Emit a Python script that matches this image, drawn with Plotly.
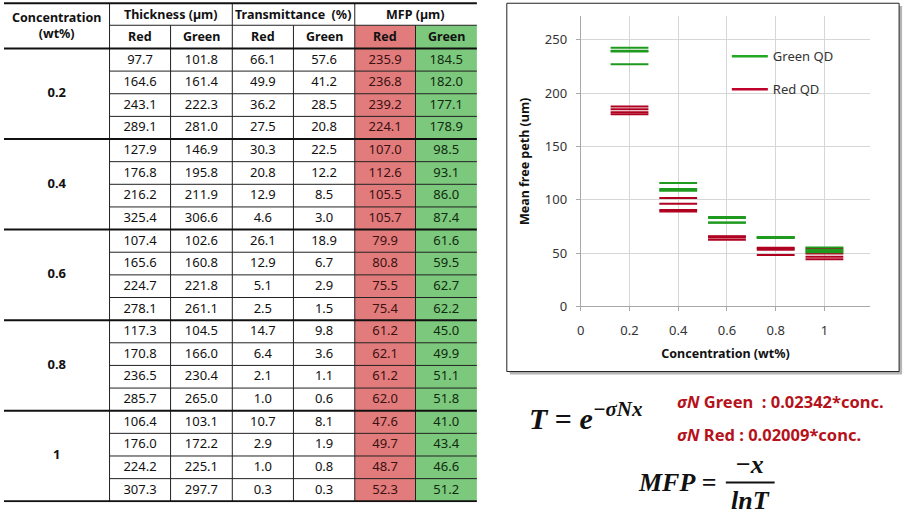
import plotly.graph_objects as go

W, H = 921, 526

# ---------------- data ----------------
concentrations = ["0.2", "0.4", "0.6", "0.8", "1"]
conc_values = [0.2, 0.4, 0.6, 0.8, 1.0]

thickness_red = [97.7, 164.6, 243.1, 289.1, 127.9, 176.8, 216.2, 325.4, 107.4, 165.6, 224.7, 278.1,
                 117.3, 170.8, 236.5, 285.7, 106.4, 176.0, 224.2, 307.3]
thickness_green = [101.8, 161.4, 222.3, 281.0, 146.9, 195.8, 211.9, 306.6, 102.6, 160.8, 221.8, 261.1,
                   104.5, 166.0, 230.4, 265.0, 103.1, 172.2, 225.1, 297.7]
trans_red = [66.1, 49.9, 36.2, 27.5, 30.3, 20.8, 12.9, 4.6, 26.1, 12.9, 5.1, 2.5,
             14.7, 6.4, 2.1, 1.0, 10.7, 2.9, 1.0, 0.3]
trans_green = [57.6, 41.2, 28.5, 20.8, 22.5, 12.2, 8.5, 3.0, 18.9, 6.7, 2.9, 1.5,
               9.8, 3.6, 1.1, 0.6, 8.1, 1.9, 0.8, 0.3]
mfp_red = [235.9, 236.8, 239.2, 224.1, 107.0, 112.6, 105.5, 105.7, 79.9, 80.8, 75.5, 75.4,
           61.2, 62.1, 61.2, 62.0, 47.6, 49.7, 48.7, 52.3]
mfp_green = [184.5, 182.0, 177.1, 178.9, 98.5, 93.1, 86.0, 87.4, 61.6, 59.5, 62.7, 62.2,
             45.0, 49.9, 51.1, 51.8, 41.0, 43.4, 46.6, 51.2]

# values (per concentration, 4 samples each)
chart_green = [[239.0, 239.8, 242.5, 227.2], [110.0, 115.8, 108.6, 108.8], [83.0, 83.9, 78.6, 78.5],
               [64.2, 65.1, 64.2, 65.0], [50.7, 52.8, 51.8, 55.3]]
chart_red = [[187.5, 185.0, 180.2, 182.0], [101.6, 96.2, 89.1, 90.5], [64.7, 62.6, 65.8, 65.3],
             [48.1, 53.0, 54.2, 54.9], [44.1, 46.5, 49.7, 54.3]]

x_ticks = [0, 0.2, 0.4, 0.6, 0.8, 1.0]
x_ticktext = ["0", "0.2", "0.4", "0.6", "0.8", "1"]

GREEN = "#1f9a1f"
RED = "#b00020"


def px(x):
    return x / W


def py(y):
    return 1 - y / H


fig = go.Figure()

# ---------------- chart ----------------
for name, vals, col in [("Red QD", chart_red, RED), ("Green QD", chart_green, GREEN)]:
    xs, ys = [], []
    for c, group in zip(conc_values, vals):
        for v in group:
            xs.append(c)
            ys.append(v)
    fig.add_trace(go.Scatter(
        x=xs, y=ys, mode="markers", showlegend=False, hoverinfo="skip",
        marker=dict(symbol="line-ew", size=27, line=dict(width=2, color=col)),
        xaxis="x", yaxis="y"))

for i, (name, col) in enumerate([("Green QD", "#22a822"), ("Red QD", "#c0002a")]):
    fig.add_trace(go.Scatter(
        x=[None], y=[None], mode="lines", name=name, legendgroup=name,
        line=dict(color=col, width=2.5), xaxis="x", yaxis="y"))

# ---------------- table ----------------
col_edges = [0, 106, 167.3, 229.3, 290.7, 352.3, 413.3, 475]
top_y, mid_y, head_y = 3.3, 25.7, 49.3
row_h = (510.0 - head_y) / 20
row_edges = [head_y + i * row_h for i in range(21)]
centers = [(col_edges[i] + col_edges[i + 1]) / 2 for i in range(7)]

shapes = []
# coloured MFP cells
shapes.append(dict(type="rect", xref="x2", yref="y2", x0=col_edges[5], x1=col_edges[6], y0=mid_y, y1=row_edges[-1],
                   fillcolor="#e27c7c", line=dict(width=0), layer="below"))
shapes.append(dict(type="rect", xref="x2", yref="y2", x0=col_edges[6], x1=col_edges[7], y0=mid_y, y1=row_edges[-1],
                   fillcolor="#7cc87c", line=dict(width=0), layer="below"))


def hline(y, x0, x1, w=1, color="#222"):
    shapes.append(dict(type="line", xref="x2", yref="y2", x0=x0, x1=x1, y0=y, y1=y,
                       line=dict(color=color, width=w), layer="below"))


def vline(x, y0, y1, w=1, color="#222"):
    shapes.append(dict(type="line", xref="x2", yref="y2", x0=x, x1=x, y0=y0, y1=y1,
                       line=dict(color=color, width=w), layer="below"))


for i, y in enumerate(row_edges[1:-1], start=1):
    if i % 4 != 0:
        hline(y, col_edges[1], col_edges[7])
hline(mid_y, col_edges[1], col_edges[7])
for x in [col_edges[1], col_edges[3], col_edges[5]]:
    vline(x, top_y, row_edges[-1])
for x in [col_edges[2], col_edges[4], col_edges[6]]:
    vline(x, mid_y, row_edges[-1])
hline(top_y, 0, col_edges[7], w=2, color="#111")
hline(head_y, 0, col_edges[7], w=2, color="#111")
for i in range(4, 21, 4):
    hline(row_edges[i], 0, col_edges[7], w=2, color="#111")

# table numbers
columns = [thickness_red, thickness_green, trans_red, trans_green, mfp_red, mfp_green]
col_colors = ["#111", "#111", "#111", "#111", "#3a1010", "#0f2a0f"]
tx, ty, tt, tc = [], [], [], []
for ci, (vals, colr) in enumerate(zip(columns, col_colors)):
    for ri, v in enumerate(vals):
        tx.append(centers[ci + 1])
        ty.append((row_edges[ri] + row_edges[ri + 1]) / 2 + 0.5)
        tt.append(f"{v:.1f}")
        tc.append(colr)
fig.add_trace(go.Scatter(
    x=tx, y=ty, text=tt, mode="text", showlegend=False, hoverinfo="skip",
    textfont=dict(family="Noto Sans", size=13, color=tc), xaxis="x2", yaxis="y2"))

# concentration labels
fig.add_trace(go.Scatter(
    x=[centers[0]] * 5, y=[row_edges[4 * g + 2] for g in range(5)],
    text=[f"<b>{c}</b>" for c in concentrations], mode="text", showlegend=False, hoverinfo="skip",
    textfont=dict(family="Noto Sans", size=13, color="#111"), xaxis="x2", yaxis="y2"))

annotations = []


def head(text, x, y, size=12.5):
    annotations.append(dict(text=f"<b>{text}</b>", x=x, y=y, xref="x2", yref="y2", showarrow=False,
                            xanchor="center", yanchor="middle",
                            font=dict(family="Noto Sans", size=size, color="#111")))


head("Concentration<br>(wt%)", centers[0], (top_y + head_y) / 2)
head("Thickness (µm)", col_edges[2], (top_y + mid_y) / 2)
head("Transmittance  (%)", col_edges[4], (top_y + mid_y) / 2)
head("MFP (µm)", col_edges[6], (top_y + mid_y) / 2)
for i in range(6):
    head("Red" if i % 2 == 0 else "Green", centers[i + 1], (mid_y + head_y) / 2)

# ---------------- chart frame ----------------
frame = [
    dict(type="rect", xref="paper", yref="paper", x0=px(508), x1=px(902), y0=py(381), y1=py(6),
         fillcolor="#b5b5b5", line=dict(width=0), layer="below"),
    dict(type="rect", xref="paper", yref="paper", x0=px(505), x1=px(899), y0=py(378), y1=py(3.3),
         fillcolor="white", line=dict(color="#222", width=1), layer="below"),
]
shapes = frame + shapes

# ---------------- formulas ----------------
SERIF = "Liberation Serif"
annotations += [
    dict(text="<b><i>T</i> = <i>e</i><sup><i>−σNx</i></sup></b>", x=px(525), y=py(423), xref="paper", yref="paper",
         xanchor="left", yanchor="middle", showarrow=False, font=dict(family=SERIF, size=30, color="#111")),
    dict(text="<b><i>σN</i> Green  : 0.02342*conc.</b>", x=px(674), y=py(408), xref="paper", yref="paper",
         xanchor="left", yanchor="middle", showarrow=False, font=dict(family="Noto Sans", size=16.5, color="#b5121b")),
    dict(text="<b><i>σN</i> Red : 0.02009*conc.</b>", x=px(674), y=py(442), xref="paper", yref="paper",
         xanchor="left", yanchor="middle", showarrow=False, font=dict(family="Noto Sans", size=16.5, color="#b5121b")),
    dict(text="<b><i>MFP</i> =</b>", x=px(718), y=py(491), xref="paper", yref="paper",
         xanchor="right", yanchor="middle", showarrow=False, font=dict(family=SERIF, size=26, color="#111")),
    dict(text="<b><i>−x</i></b>", x=px(749), y=py(473), xref="paper", yref="paper",
         xanchor="center", yanchor="middle", showarrow=False, font=dict(family=SERIF, size=26, color="#111")),
    dict(text="<b><i>lnT</i></b>", x=px(750), y=py(509), xref="paper", yref="paper",
         xanchor="center", yanchor="middle", showarrow=False, font=dict(family=SERIF, size=26, color="#111")),
]
shapes.append(dict(type="line", xref="paper", yref="paper", x0=px(725), x1=px(774), y0=py(491), y1=py(491),
                   line=dict(color="#111", width=2)))

AX_FONT = dict(family="Noto Sans", size=13, color="#333")
fig.update_layout(
    width=W, height=H, margin=dict(l=0, r=0, t=0, b=0),
    paper_bgcolor="white", plot_bgcolor="rgba(0,0,0,0)",
    showlegend=True,
    legend=dict(x=px(726), y=py(42), xanchor="left", yanchor="top", bgcolor="rgba(0,0,0,0)",
                traceorder="grouped", tracegroupgap=13, itemwidth=36,
                font=dict(family="Noto Sans", size=13, color="#333")),
    xaxis=dict(domain=[px(579.3), px(870)], range=[0, 1.188], tickvals=x_ticks, ticktext=x_ticktext,
               showgrid=True, gridcolor="#d6d6d6", gridwidth=1, zeroline=False,
               showline=True, linecolor="#a8a8a8", ticks="outside", ticklen=4, tickcolor="#a8a8a8",
               tickfont=AX_FONT, ticklabelstandoff=8,
               title=dict(text="<b>Concentration (wt%)</b>", standoff=11,
                          font=dict(family="Noto Sans", size=12.5, color="#111")),
               anchor="y"),
    yaxis=dict(domain=[py(311.7), py(16.7)], range=[0, 272], dtick=50,
               showgrid=True, gridcolor="#d6d6d6", gridwidth=1, zeroline=False,
               showline=True, linecolor="#a8a8a8", ticks="outside", ticklen=4, tickcolor="#a8a8a8",
               tickfont=AX_FONT, ticklabelstandoff=6,
               title=dict(text="<b>Mean free peth (um)</b>", standoff=12,
                          font=dict(family="Noto Sans", size=12.5, color="#111")),
               anchor="x"),
    xaxis2=dict(domain=[0, px(475)], range=[0, 475], visible=False, fixedrange=True, anchor="y2"),
    yaxis2=dict(domain=[py(511), py(2)], range=[511, 2], visible=False, fixedrange=True, anchor="x2"),
    shapes=shapes,
    annotations=annotations,
)

fig.write_html("out.html", config={"displayModeBar": False},
               post_script="document.body.style.margin='0';document.body.style.overflow='hidden';")
